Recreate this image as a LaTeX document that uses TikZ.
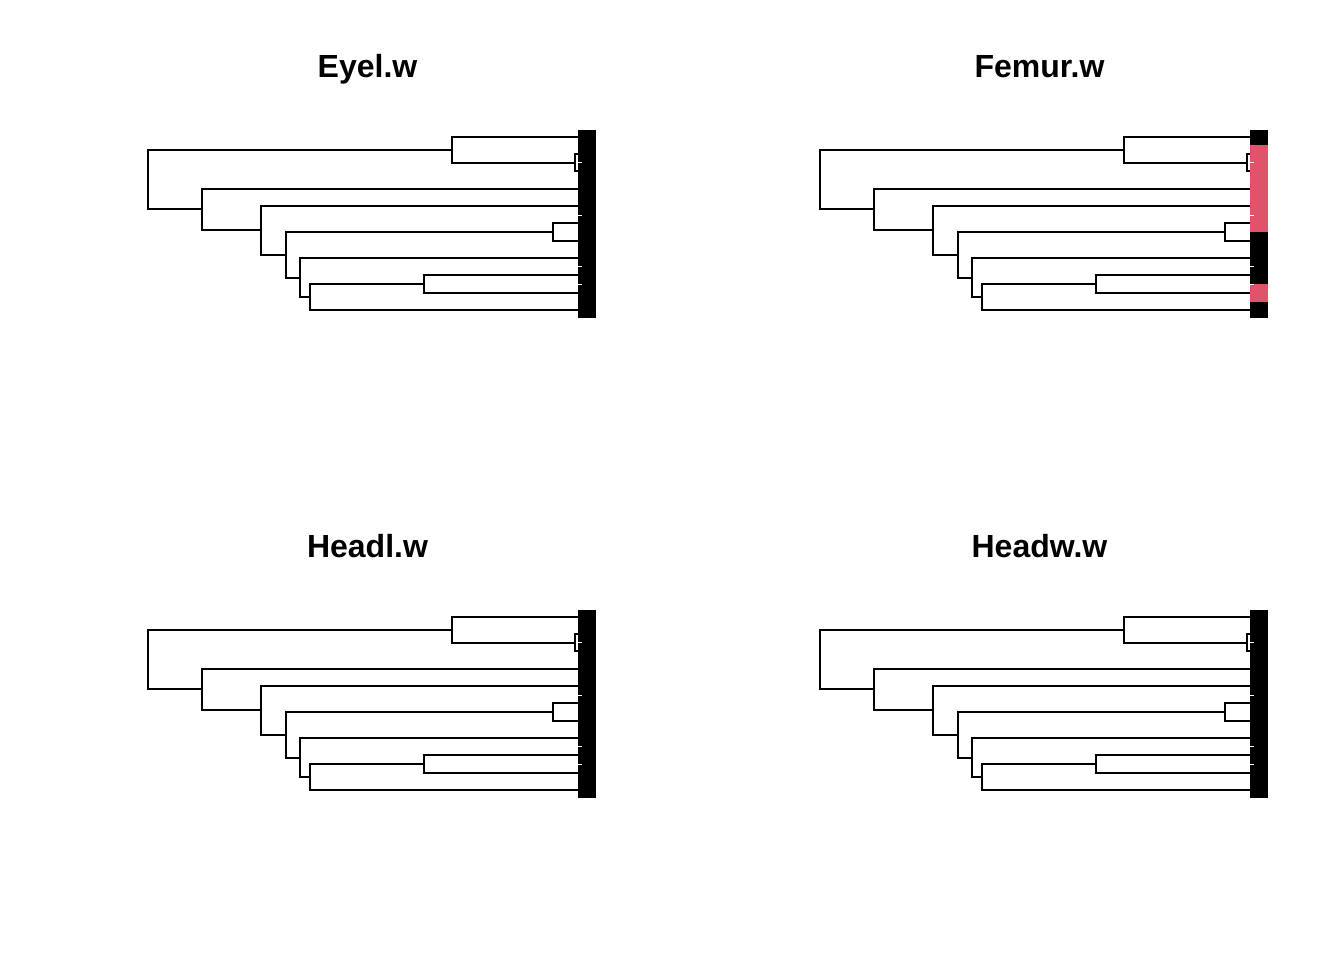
\documentclass[tikz,border=0pt]{standalone}
\usepackage{fontspec}
\setmainfont{Liberation Sans}
\definecolor{traitred}{HTML}{DF536B}
\tikzset{
  branch/.style={line width=1.9pt},
  tipbar/.style={fill=black},
  gaptick/.style={white,line width=0.8pt},
  paneltitle/.style={font=\bfseries\fontsize{32}{38}\selectfont,anchor=base},
}
% #1 title, #2 extra colouring of the tip bar
\newcommand\phylo[2]{%
  \node[paneltitle] (ttl) at (367.5,77.3) {#1};
  \foreach \i in {0,...,10}
    \coordinate (t\i) at (578,{136.7+17.33*\i});
  \coordinate (n1) at (575,162.7);
  \coordinate (n2) at (451.7,149.7);
  \coordinate (n3) at (424,284);
  \coordinate (n4) at (310,297);
  \coordinate (n5) at (300,278);
  \coordinate (n6) at (553.3,231.7);
  \coordinate (n7) at (285.7,254.7);
  \coordinate (n8) at (260.7,230.3);
  \coordinate (n9) at (202.3,209.2);
  \coordinate (root) at (148,179.6);
  \draw[branch] (root) |- (n2) (root) |- (n9);
  \draw[branch] (n2) |- (t0) (n2) |- (n1);
  \draw[branch] (n1) |- (t1) (n1) |- (t2);
  \draw[branch] (n9) |- (t3) (n9) |- (n8);
  \draw[branch] (n8) |- (t4) (n8) |- (n7);
  \draw[branch] (n7) |- (n6) (n7) |- (n5);
  \draw[branch] (n6) |- (t5) (n6) |- (t6);
  \draw[branch] (n5) |- (t7) (n5) |- (n4);
  \draw[branch] (n4) |- (n3) (n4) |- (t10);
  \draw[branch] (n3) |- (t8) (n3) |- (t9);
  \fill[tipbar] (578.3,130) rectangle (595.7,317.7);
  #2
  \foreach \y in {162.7,215,266.7,284.3}
    \draw[gaptick] (578.3,\y) -- (581.7,\y);
}
\begin{document}
\begin{tikzpicture}[x=1pt,y=-1pt]
  \useasboundingbox[fill=white] (0,0) rectangle (1344,960);
  \begin{scope}
    \phylo{Eyel.w}{}
  \end{scope}
  \begin{scope}[xshift=672pt]
    \phylo{Femur.w}{%
      \fill[traitred] (578.3,145.3) rectangle (595.7,232.3);
      \fill[traitred] (578.3,284.3) rectangle (595.7,301.7);}
  \end{scope}
  \begin{scope}[yshift=-480pt]
    \phylo{Headl.w}{}
  \end{scope}
  \begin{scope}[xshift=672pt,yshift=-480pt]
    \phylo{Headw.w}{}
  \end{scope}
\end{tikzpicture}
\end{document}
